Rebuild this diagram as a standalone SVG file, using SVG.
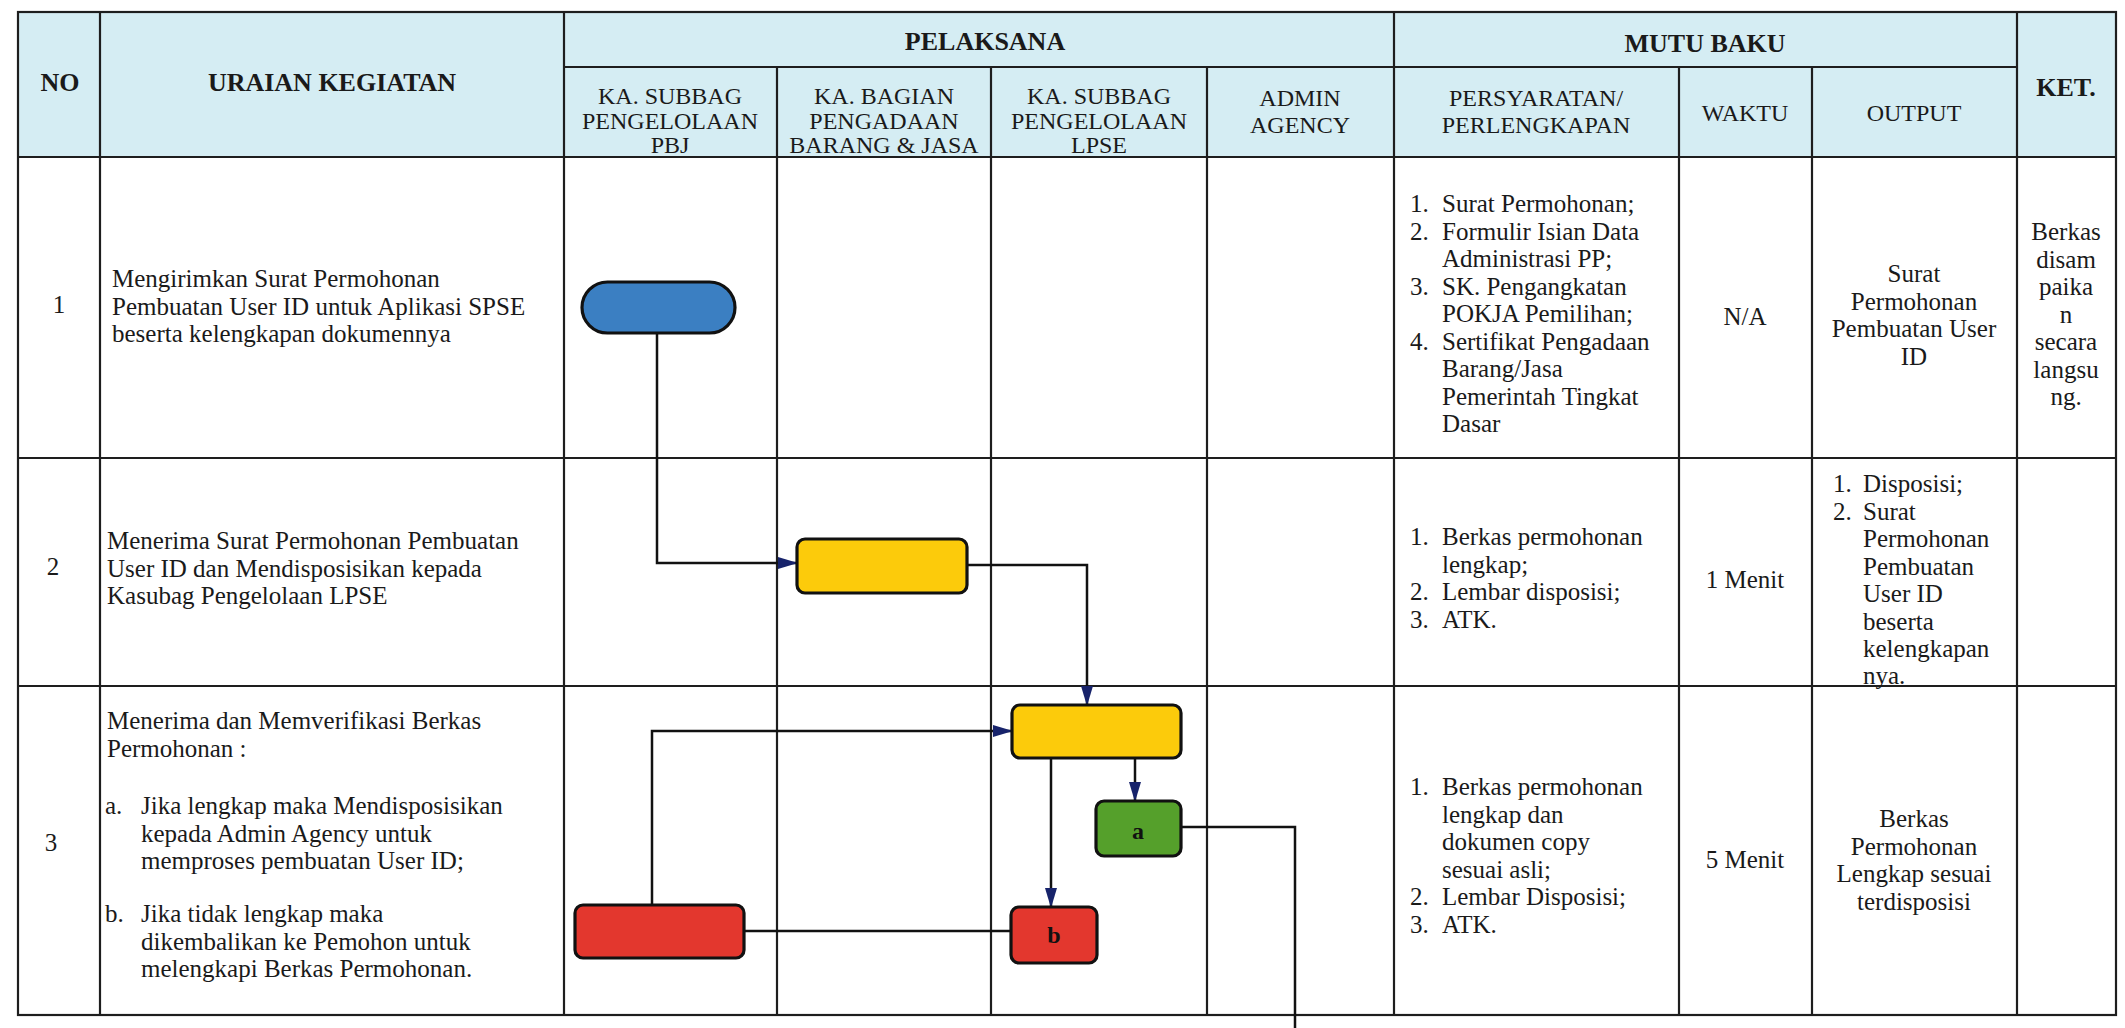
<svg xmlns="http://www.w3.org/2000/svg" width="2125" height="1028" viewBox="0 0 2125 1028">
<style>
.t{font-family:"Liberation Serif","Times New Roman",serif;font-size:25px;fill:#1a1a1a}
.c{text-anchor:middle}
.h{font-family:"Liberation Serif","Times New Roman",serif;font-size:24px;fill:#1a1a1a;text-anchor:middle}
.hb{font-weight:bold;font-size:26px}
.grid{stroke:#1e1e1e;stroke-width:2.2;fill:none}
.node{stroke:#111;stroke-width:3.2}
.conn{stroke:#111;stroke-width:2.5;fill:none}
.lbl{font-family:"Liberation Serif",serif;font-size:24px;font-weight:bold;fill:#111;text-anchor:middle}
</style>
<defs>
<marker id="arr" viewBox="0 0 20 12" refX="19" refY="6" markerWidth="20" markerHeight="12" markerUnits="userSpaceOnUse" orient="auto">
<path d="M0,0 L20,6 L0,12 z" fill="#17236b"/>
</marker>
</defs>
<rect x="0" y="0" width="2125" height="1028" fill="#ffffff"/>
<g id="table">
<rect x="18" y="12" width="2098" height="145" fill="#d5edf3"/>
<rect x="18" y="12" width="2098" height="1003" class="grid"/>
<line x1="100" y1="12" x2="100" y2="1015" class="grid"/>
<line x1="564" y1="12" x2="564" y2="1015" class="grid"/>
<line x1="777" y1="67" x2="777" y2="1015" class="grid"/>
<line x1="991" y1="67" x2="991" y2="1015" class="grid"/>
<line x1="1207" y1="67" x2="1207" y2="1015" class="grid"/>
<line x1="1394" y1="12" x2="1394" y2="1015" class="grid"/>
<line x1="1679" y1="67" x2="1679" y2="1015" class="grid"/>
<line x1="1812" y1="67" x2="1812" y2="1015" class="grid"/>
<line x1="2017" y1="12" x2="2017" y2="1015" class="grid"/>
<line x1="564" y1="67" x2="2017" y2="67" class="grid"/>
<line x1="18" y1="157" x2="2116" y2="157" class="grid"/>
<line x1="18" y1="458" x2="2116" y2="458" class="grid"/>
<line x1="18" y1="686" x2="2116" y2="686" class="grid"/>
</g>
<g id="header">
<text class="h hb" x="60" y="91">NO</text>
<text class="h hb" x="332" y="91">URAIAN KEGIATAN</text>
<text class="h hb" x="985" y="50">PELAKSANA</text>
<text class="h hb" x="1705" y="52">MUTU BAKU</text>
<text class="h hb" x="2066" y="96">KET.</text>
<text class="h" x="670" y="104">KA. SUBBAG</text>
<text class="h" x="670" y="129">PENGELOLAAN</text>
<text class="h" x="670" y="153">PBJ</text>
<text class="h" x="884" y="104">KA. BAGIAN</text>
<text class="h" x="884" y="129">PENGADAAN</text>
<text class="h" x="884" y="153">BARANG &amp; JASA</text>
<text class="h" x="1099" y="104">KA. SUBBAG</text>
<text class="h" x="1099" y="129">PENGELOLAAN</text>
<text class="h" x="1099" y="153">LPSE</text>
<text class="h" x="1300" y="106">ADMIN</text>
<text class="h" x="1300" y="133">AGENCY</text>
<text class="h" x="1536" y="106">PERSYARATAN/</text>
<text class="h" x="1536" y="133">PERLENGKAPAN</text>
<text class="h" x="1745" y="121">WAKTU</text>
<text class="h" x="1914" y="121">OUTPUT</text>
</g>
<g id="row1">
<text class="t c" x="59" y="313">1</text>
<text class="t" x="112" y="287">Mengirimkan Surat Permohonan</text>
<text class="t" x="112" y="314.5">Pembuatan User ID untuk Aplikasi SPSE</text>
<text class="t" x="112" y="342">beserta kelengkapan dokumennya</text>
<text class="t" x="1410" y="212">1.</text><text class="t" x="1442" y="212">Surat Permohonan;</text>
<text class="t" x="1410" y="239.5">2.</text><text class="t" x="1442" y="239.5">Formulir Isian Data</text>
<text class="t" x="1442" y="267">Administrasi PP;</text>
<text class="t" x="1410" y="294.5">3.</text><text class="t" x="1442" y="294.5">SK. Pengangkatan</text>
<text class="t" x="1442" y="322">POKJA Pemilihan;</text>
<text class="t" x="1410" y="349.5">4.</text><text class="t" x="1442" y="349.5">Sertifikat Pengadaan</text>
<text class="t" x="1442" y="377">Barang/Jasa</text>
<text class="t" x="1442" y="404.5">Pemerintah Tingkat</text>
<text class="t" x="1442" y="432">Dasar</text>
<text class="t c" x="1745" y="325">N/A</text>
<text class="t c" x="1914" y="282">Surat</text>
<text class="t c" x="1914" y="309.5">Permohonan</text>
<text class="t c" x="1914" y="337">Pembuatan User</text>
<text class="t c" x="1914" y="364.5">ID</text>
<text class="t c" x="2066" y="240">Berkas</text>
<text class="t c" x="2066" y="267.5">disam</text>
<text class="t c" x="2066" y="295">paika</text>
<text class="t c" x="2066" y="322.5">n</text>
<text class="t c" x="2066" y="350">secara</text>
<text class="t c" x="2066" y="377.5">langsu</text>
<text class="t c" x="2066" y="405">ng.</text>
</g>
<g id="row2">
<text class="t c" x="53" y="575">2</text>
<text class="t" x="107" y="549">Menerima Surat Permohonan Pembuatan</text>
<text class="t" x="107" y="576.5">User ID dan Mendisposisikan kepada</text>
<text class="t" x="107" y="604">Kasubag Pengelolaan LPSE</text>
<text class="t" x="1410" y="545">1.</text><text class="t" x="1442" y="545">Berkas permohonan</text>
<text class="t" x="1442" y="572.5">lengkap;</text>
<text class="t" x="1410" y="600">2.</text><text class="t" x="1442" y="600">Lembar disposisi;</text>
<text class="t" x="1410" y="627.5">3.</text><text class="t" x="1442" y="627.5">ATK.</text>
<text class="t c" x="1745" y="588">1 Menit</text>
<text class="t" x="1833" y="492">1.</text><text class="t" x="1863" y="492">Disposisi;</text>
<text class="t" x="1833" y="519.5">2.</text><text class="t" x="1863" y="519.5">Surat</text>
<text class="t" x="1863" y="547">Permohonan</text>
<text class="t" x="1863" y="574.5">Pembuatan</text>
<text class="t" x="1863" y="602">User ID</text>
<text class="t" x="1863" y="629.5">beserta</text>
<text class="t" x="1863" y="657">kelengkapan</text>
<text class="t" x="1863" y="684">nya.</text>
</g>
<g id="row3">
<text class="t c" x="51" y="851">3</text>
<text class="t" x="107" y="729">Menerima dan Memverifikasi Berkas</text>
<text class="t" x="107" y="756.5">Permohonan :</text>
<text class="t" x="105" y="814">a.</text><text class="t" x="141" y="814">Jika lengkap maka Mendisposisikan</text>
<text class="t" x="141" y="841.5">kepada Admin Agency untuk</text>
<text class="t" x="141" y="869">memproses pembuatan User ID;</text>
<text class="t" x="105" y="922">b.</text><text class="t" x="141" y="922">Jika tidak lengkap maka</text>
<text class="t" x="141" y="949.5">dikembalikan ke Pemohon untuk</text>
<text class="t" x="141" y="977">melengkapi Berkas Permohonan.</text>
<text class="t" x="1410" y="795">1.</text><text class="t" x="1442" y="795">Berkas permohonan</text>
<text class="t" x="1442" y="822.5">lengkap dan</text>
<text class="t" x="1442" y="850">dokumen copy</text>
<text class="t" x="1442" y="877.5">sesuai asli;</text>
<text class="t" x="1410" y="905">2.</text><text class="t" x="1442" y="905">Lembar Disposisi;</text>
<text class="t" x="1410" y="932.5">3.</text><text class="t" x="1442" y="932.5">ATK.</text>
<text class="t c" x="1745" y="868">5 Menit</text>
<text class="t c" x="1914" y="827">Berkas</text>
<text class="t c" x="1914" y="854.5">Permohonan</text>
<text class="t c" x="1914" y="882">Lengkap sesuai</text>
<text class="t c" x="1914" y="909.5">terdisposisi</text>
</g>
<g id="connectors">
<path class="conn" d="M657,333 V563 H797" marker-end="url(#arr)"/>
<path class="conn" d="M967,565 H1087 V705" marker-end="url(#arr)"/>
<path class="conn" d="M652,905 V731 H1012" marker-end="url(#arr)"/>
<path class="conn" d="M1135,758 V801" marker-end="url(#arr)"/>
<path class="conn" d="M1051,758 V907" marker-end="url(#arr)"/>
<path class="conn" d="M1011,931 H744"/>
<path class="conn" d="M1181,827 H1295 V1028"/>
</g>
<g id="n-start"><rect class="node" x="582" y="282" width="153" height="51" rx="25.5" fill="#3b7fc2"/></g>
<g id="n-disposisi"><rect class="node" x="797" y="539" width="170" height="54" rx="8" fill="#fccb0b"/></g>
<g id="n-verifikasi"><rect class="node" x="1012" y="705" width="169" height="53" rx="8" fill="#fccb0b"/></g>
<g id="n-a"><rect class="node" x="1096" y="801" width="85" height="55" rx="8" fill="#55a02b"/><text class="lbl" x="1138" y="839">a</text></g>
<g id="n-b"><rect class="node" x="1011" y="907" width="86" height="56" rx="8" fill="#e3372e"/><text class="lbl" x="1054" y="943">b</text></g>
<g id="n-kembali"><rect class="node" x="575" y="905" width="169" height="53" rx="8" fill="#e3372e"/></g>
</svg>
